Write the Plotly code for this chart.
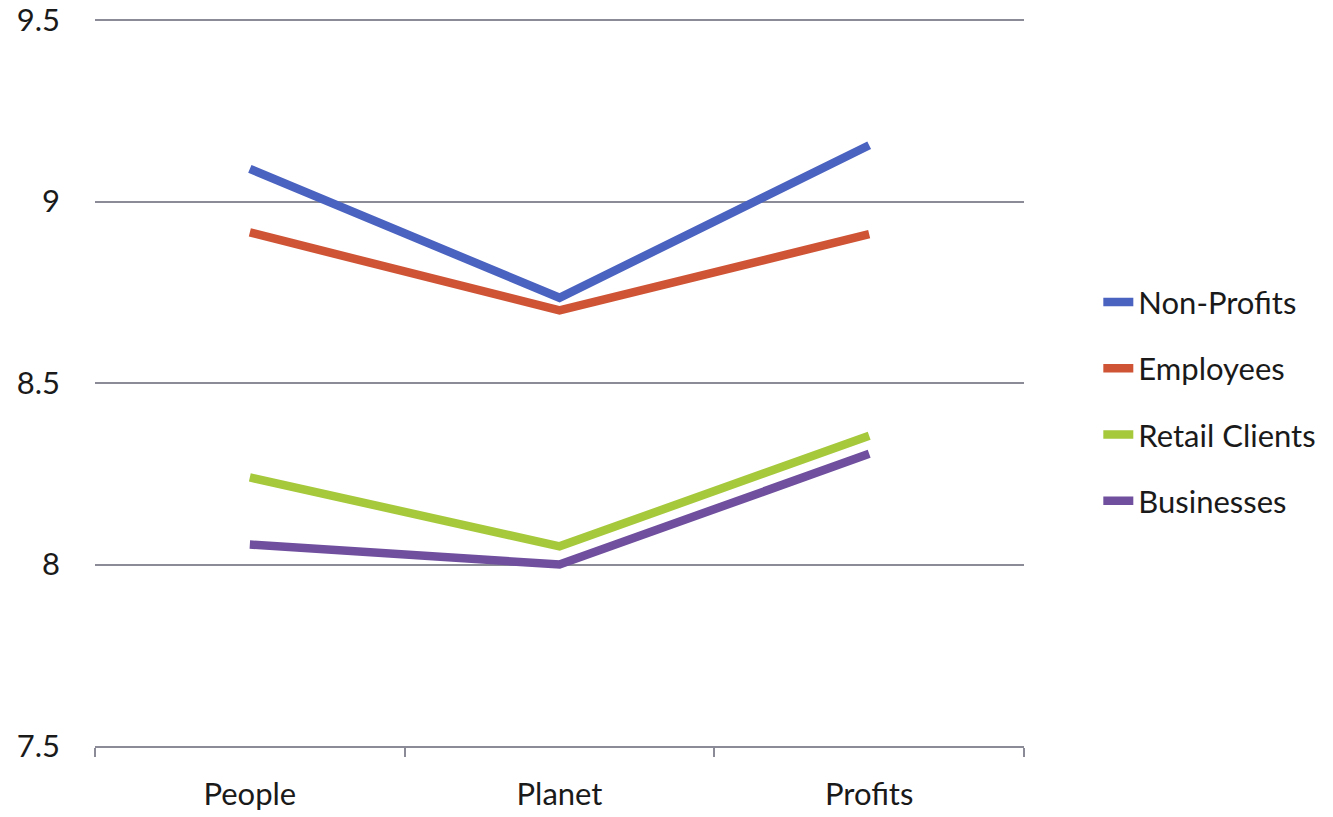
import plotly.graph_objects as go

# Survey scores by stakeholder group across the three pillars
categories = ["People", "Planet", "Profits"]
non_profits = [9.09, 8.735, 9.155]
employees = [8.915, 8.70, 8.91]
retail_clients = [8.24, 8.05, 8.355]
businesses = [8.055, 8.0, 8.305]

series = [
    ("Non-Profits", non_profits, "#4A62C0"),
    ("Employees", employees, "#CF5436"),
    ("Retail Clients", retail_clients, "#A6C93C"),
    ("Businesses", businesses, "#6F4F9E"),
]

font_family = "Lato, 'Open Sans', sans-serif"

fig = go.Figure()
for i, (name, values, color) in enumerate(series):
    fig.add_trace(go.Scatter(
        x=categories,
        y=values,
        name=name,
        mode="lines",
        line=dict(color=color, width=8.5),
        legendgroup=f"g{i}",
    ))

fig.update_layout(
    width=1333,
    height=817,
    margin=dict(l=95, r=306, t=19, b=71),
    paper_bgcolor="white",
    plot_bgcolor="white",
    font=dict(family=font_family, size=31, color="#1a1a1a"),
    showlegend=True,
    legend=dict(
        x=1.080,
        y=0.4735,
        xanchor="left",
        yanchor="middle",
        font=dict(size=31, color="#1a1a1a"),
        tracegroupgap=23,
        itemwidth=30,
        bgcolor="rgba(0,0,0,0)",
    ),
    xaxis=dict(
        type="category",
        tickson="boundaries",
        ticks="outside",
        ticklen=9,
        tickwidth=2,
        tickcolor="#8a8b97",
        showline=True,
        linecolor="#8a8b97",
        linewidth=2,
        showgrid=False,
        zeroline=False,
        ticklabelstandoff=20,
        range=[-0.5, 2.5],
        automargin=False,
    ),
    yaxis=dict(
        range=[7.5, 9.503],
        tickvals=[7.5, 8, 8.5, 9, 9.5],
        ticktext=["7.5", "8", "8.5", "9", "9.5"],
        showgrid=True,
        gridcolor="#8a8b97",
        gridwidth=2,
        zeroline=False,
        showline=False,
        ticks="",
        ticklabelstandoff=34,
        ticklabeloverflow="allow",
        automargin=False,
    ),
)

fig.write_html("out.html")
